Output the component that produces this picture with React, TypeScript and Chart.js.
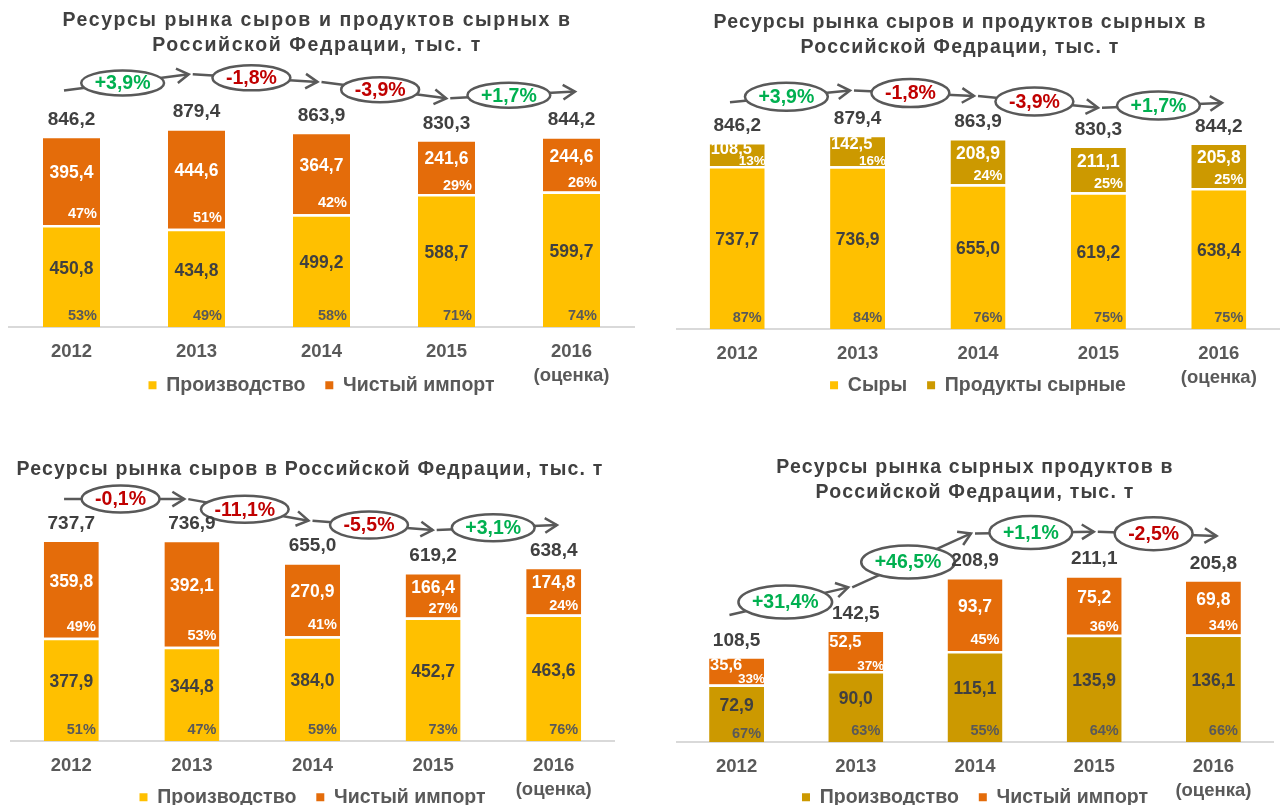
import { useEffect, useRef } from 'react';
import { Chart, registerables } from 'chart.js';

Chart.register(...registerables);

const FONT = '"Liberation Sans", Arial, Helvetica, sans-serif';

// ---------- DATA ----------
const years: (string | string[])[] = ['2012', '2013', '2014', '2015', ['2016', '(оценка)']];

// Panel 1: Ресурсы рынка сыров и продуктов сырных
const p1Production = [450.8, 434.8, 499.2, 588.7, 599.7];
const p1Import = [395.4, 444.6, 364.7, 241.6, 244.6];
const p1Totals = [846.2, 879.4, 863.9, 830.3, 844.2];
const p1ProductionPct = [53, 49, 58, 71, 74];
const p1ImportPct = [47, 51, 42, 29, 26];
const p1Growth = [3.9, -1.8, -3.9, 1.7];

// Panel 2: сыры / продукты сырные
const p2Cheese = [737.7, 736.9, 655.0, 619.2, 638.4];
const p2Products = [108.5, 142.5, 208.9, 211.1, 205.8];
const p2Totals = [846.2, 879.4, 863.9, 830.3, 844.2];
const p2CheesePct = [87, 84, 76, 75, 75];
const p2ProductsPct = [13, 16, 24, 25, 25];
const p2Growth = [3.9, -1.8, -3.9, 1.7];

// Panel 3: Ресурсы рынка сыров
const p3Production = [377.9, 344.8, 384.0, 452.7, 463.6];
const p3Import = [359.8, 392.1, 270.9, 166.4, 174.8];
const p3Totals = [737.7, 736.9, 655.0, 619.2, 638.4];
const p3ProductionPct = [51, 47, 59, 73, 76];
const p3ImportPct = [49, 53, 41, 27, 24];
const p3Growth = [-0.1, -11.1, -5.5, 3.1];

// Panel 4: Ресурсы рынка сырных продуктов
const p4Production = [72.9, 90.0, 115.1, 135.9, 136.1];
const p4Import = [35.6, 52.5, 93.7, 75.2, 69.8];
const p4Totals = [108.5, 142.5, 208.9, 211.1, 205.8];
const p4ProductionPct = [67, 63, 55, 64, 66];
const p4ImportPct = [33, 37, 45, 36, 34];
const p4Growth = [31.4, 46.5, 1.1, -2.5];

const title12 = ['Ресурсы рынка сыров и продуктов сырных в', 'Российской Федрации, тыс. т'];
const title3 = ['Ресурсы рынка сыров в Российской Федрации, тыс. т'];
const title4 = ['Ресурсы рынка сырных продуктов в', 'Российской Федрации, тыс. т'];

// ---------- STYLE ----------
const YELLOW = '#FFC000';
const ORANGE = '#E46C0A';
const GOLD = '#CC9900';
const DARK = '#404040';
const GRAY = '#595959';
const WHITE = '#FFFFFF';
const GREEN = '#00B050';
const RED = '#C00000';

interface Series {
  label: string;
  values: number[];
  pct: number[];
  color: string;
  valueColor: string;
  pctColor: string;
}

interface Panel {
  left: number; top: number; w: number; h: number;
  padLeft: number; padRight: number; padTop: number; yW: number;
  yMax: number; y2Min: number; y2Max: number;
  title: string[]; titleX: number; titleY: number; titleSpacing: number;
  xH: number; legendH: number; barPct: number; ellipseH: number;
  series: Series[]; totals: number[]; growth: number[];
}

const panels: Panel[] = [
  {
    left: 0, top: 0, w: 641, h: 402, padLeft: 0, padRight: 7, padTop: 101, yW: 9,
    yMax: 1000, y2Min: 363.7, y2Max: 824.9,
    title: title12, titleX: 317, titleY: 21, titleSpacing: 1.6,
    xH: 28.5, legendH: 46.5, barPct: 0.456, ellipseH: 25,
    series: [
      { label: 'Производство', values: p1Production, pct: p1ProductionPct, color: YELLOW, valueColor: DARK, pctColor: GRAY },
      { label: 'Чистый импорт', values: p1Import, pct: p1ImportPct, color: ORANGE, valueColor: WHITE, pctColor: WHITE },
    ],
    totals: p1Totals, growth: p1Growth,
  },
  {
    left: 641, top: 0, w: 641, h: 402, padLeft: 0, padRight: 3, padTop: 108, yW: 36,
    yMax: 1000, y2Min: 198.6, y2Max: 829.6,
    title: title12, titleX: 319, titleY: 23, titleSpacing: 1.2,
    xH: 26.5, legendH: 46.5, barPct: 0.457, ellipseH: 28,
    series: [
      { label: 'Сыры', values: p2Cheese, pct: p2CheesePct, color: YELLOW, valueColor: DARK, pctColor: GRAY },
      { label: 'Продукты сырные', values: p2Products, pct: p2ProductsPct, color: GOLD, valueColor: WHITE, pctColor: WHITE },
    ],
    totals: p2Totals, growth: p2Growth,
  },
  {
    left: 0, top: 402, w: 641, h: 403, padLeft: 6, padRight: 27, padTop: 120.6, yW: 5,
    yMax: 800, y2Min: -183, y2Max: 647.6,
    title: title3, titleX: 310, titleY: 68, titleSpacing: 1.2,
    xH: 26.5, legendH: 37.5, barPct: 0.456, ellipseH: 27,
    series: [
      { label: 'Производство', values: p3Production, pct: p3ProductionPct, color: YELLOW, valueColor: DARK, pctColor: GRAY },
      { label: 'Чистый импорт', values: p3Import, pct: p3ImportPct, color: ORANGE, valueColor: WHITE, pctColor: WHITE },
    ],
    totals: p3Totals, growth: p3Growth,
  },
  {
    left: 641, top: 402, w: 641, h: 403, padLeft: 36, padRight: 9, padTop: 142.5, yW: 0,
    yMax: 250, y2Min: -47.8, y2Max: 195.3,
    title: title4, titleX: 334, titleY: 66, titleSpacing: 1.2,
    xH: 25.5, legendH: 37.5, barPct: 0.461, ellipseH: 33,
    series: [
      { label: 'Производство', values: p4Production, pct: p4ProductionPct, color: GOLD, valueColor: DARK, pctColor: GRAY },
      { label: 'Чистый импорт', values: p4Import, pct: p4ImportPct, color: ORANGE, valueColor: WHITE, pctColor: WHITE },
    ],
    totals: p4Totals, growth: p4Growth,
  },
];

const fmt = (v: number) => v.toFixed(1).replace('.', ',');
const fmtGrowth = (v: number) => (v > 0 ? '+' : '') + fmt(v) + '%';

function makePlugin(p: Panel) {
  return {
    id: 'panelDecor',
    beforeDraw(chart: any) {
      // let the two-line category label overflow its (shortened) axis box
      const xs = chart.scales.x;
      if (xs) xs._computeLabelArea = () => undefined;
    },
    afterDatasetsDraw(chart: any) {
      const ctx = chart.ctx as CanvasRenderingContext2D;
      ctx.save();
      ctx.textBaseline = 'middle';
      p.series.forEach((s, d) => {
        const meta = chart.getDatasetMeta(d);
        meta.data.forEach((el: any, i: number) => {
          const top = Math.min(el.y, el.base);
          const bottom = Math.max(el.y, el.base);
          const h = bottom - top;
          const left = el.x - el.width / 2;
          const right = el.x + el.width / 2;
          const small = h < 44;
          ctx.fillStyle = s.valueColor;
          ctx.font = `bold ${small ? 16.5 : 17.5}px ${FONT}`;
          if (small) {
            ctx.textAlign = 'left';
            ctx.fillText(fmt(s.values[i]), left + 1, top + Math.min(h * 0.32, 14));
          } else {
            ctx.textAlign = 'center';
            ctx.fillText(fmt(s.values[i]), el.x, (top + bottom) / 2 - 7);
          }
          ctx.fillStyle = s.pctColor;
          ctx.font = `bold ${small ? 13.5 : 14.5}px ${FONT}`;
          ctx.textAlign = 'right';
          const off = small ? 5 : h > 60 ? 11 : 8;
          ctx.fillText(s.pct[i] + '%', small ? right + 1 : right - 3, bottom - off);
        });
      });
      ctx.restore();
    },
    afterDraw(chart: any) {
      const ctx = chart.ctx as CanvasRenderingContext2D;
      ctx.save();
      ctx.textBaseline = 'middle';
      ctx.textAlign = 'center';
      // title
      ctx.fillStyle = DARK;
      ctx.font = `bold 19.5px ${FONT}`;
      (ctx as any).letterSpacing = `${p.titleSpacing}px`;
      p.title.forEach((t, k) => ctx.fillText(t, p.titleX, p.titleY + k * 25));
      (ctx as any).letterSpacing = '0px';
      // growth arrows
      const meta0 = chart.getDatasetMeta(0);
      const y2 = chart.scales.y2;
      const ca = chart.chartArea;
      const mid = (ca.left + ca.right) / 2;
      p.growth.forEach((g, i) => {
        const xa = meta0.data[i].x;
        const xb = meta0.data[i + 1].x;
        const sx = xa + (xa - mid) * 0.03;
        const ex = xb + (xb - mid) * 0.03 - 4;
        const sy = y2.getPixelForValue(p.totals[i]);
        const ey = y2.getPixelForValue(p.totals[i + 1]);
        ctx.strokeStyle = GRAY;
        ctx.lineWidth = 2.5;
        ctx.lineCap = 'butt';
        ctx.lineJoin = 'miter';
        ctx.beginPath();
        ctx.moveTo(sx, sy);
        ctx.lineTo(ex, ey);
        ctx.stroke();
        const ang = Math.atan2(ey - sy, ex - sx);
        const hl = 14;
        const ha = 0.55;
        ctx.beginPath();
        ctx.moveTo(ex - hl * Math.cos(ang - ha), ey - hl * Math.sin(ang - ha));
        ctx.lineTo(ex, ey);
        ctx.lineTo(ex - hl * Math.cos(ang + ha), ey - hl * Math.sin(ang + ha));
        ctx.stroke();
        const t = 0.47;
        const cx = sx + (ex - sx) * t;
        const cy = sy + (ey - sy) * t;
        const txt = fmtGrowth(g);
        ctx.font = `bold 19.5px ${FONT}`;
        const tw = ctx.measureText(txt).width;
        ctx.beginPath();
        ctx.ellipse(cx, cy, tw / 2 + 13.5, p.ellipseH / 2, 0, 0, Math.PI * 2);
        ctx.fillStyle = WHITE;
        ctx.fill();
        ctx.stroke();
        ctx.fillStyle = g > 0 ? GREEN : RED;
        ctx.fillText(txt, cx, cy + 1);
      });
      // totals (on top)
      const lastMeta = chart.getDatasetMeta(p.series.length - 1);
      ctx.fillStyle = DARK;
      ctx.font = `bold 19px ${FONT}`;
      lastMeta.data.forEach((el: any, i: number) => {
        ctx.fillText(fmt(p.totals[i]), el.x, Math.min(el.y, el.base) - 16);
      });
      ctx.restore();
    },
  };
}

function buildConfig(p: Panel): any {
  const defaultGen = (Chart as any).defaults.plugins.legend.labels.generateLabels;
  return {
    type: 'bar',
    data: {
      labels: years,
      datasets: p.series.map((s) => ({
        label: s.label,
        data: s.values,
        backgroundColor: s.color,
        borderColor: WHITE,
        borderWidth: { top: 2.5, bottom: 0, left: 0, right: 0 },
        borderSkipped: false,
        barPercentage: p.barPct,
        categoryPercentage: 1,
      })),
    },
    options: {
      responsive: false,
      animation: false,
      devicePixelRatio: 1,
      events: [],
      layout: { padding: { left: p.padLeft, right: p.padRight, top: p.padTop, bottom: 0 } },
      plugins: {
        title: { display: false },
        legend: {
          display: true,
          position: 'bottom',
          fullSize: false,
          maxHeight: p.legendH,
          labels: {
            color: GRAY,
            font: { family: FONT, size: 19.5, weight: 'bold' },
            boxWidth: 8,
            boxHeight: 8,
            padding: 20,
            generateLabels: (chart: any) =>
              defaultGen(chart).map((l: any) => ({ ...l, lineWidth: 0, strokeStyle: l.fillStyle })),
          },
        },
        tooltip: { enabled: false },
      },
      scales: {
        x: {
          stacked: true,
          grid: { display: false, drawTicks: false, tickLength: 0 },
          border: { display: true, color: '#D9D9D9', width: 2 },
          ticks: {
            color: GRAY,
            font: { family: FONT, size: 18.5, weight: 'bold', lineHeight: 24 / 18.5 },
            padding: 13,
            maxRotation: 0,
            autoSkip: false,
          },
          afterFit: (s: any) => { s.height = p.xH; },
        },
        y: {
          stacked: true,
          display: p.yW > 0,
          min: 0,
          max: p.yMax,
          ticks: { display: false },
          grid: { display: false, drawTicks: false },
          border: { display: false },
          afterFit: (s: any) => { s.width = p.yW; },
        },
        y2: {
          display: false,
          position: 'right',
          min: p.y2Min,
          max: p.y2Max,
        },
      },
    },
    plugins: [makePlugin(p)],
  };
}

function PanelChart({ p }: { p: Panel }) {
  const ref = useRef<HTMLCanvasElement>(null);
  useEffect(() => {
    if (!ref.current) return;
    const chart = new Chart(ref.current, buildConfig(p));
    return () => chart.destroy();
  }, [p]);
  return (
    <canvas
      ref={ref}
      width={p.w}
      height={p.h}
      style={{ position: 'absolute', left: p.left, top: p.top }}
    />
  );
}

export default function App() {
  return (
    <div
      style={{
        position: 'fixed',
        left: 0,
        top: 0,
        width: 1282,
        height: 805,
        background: '#FFFFFF',
        overflow: 'hidden',
      }}
    >
      {panels.map((p, i) => (
        <PanelChart key={i} p={p} />
      ))}
    </div>
  );
}
